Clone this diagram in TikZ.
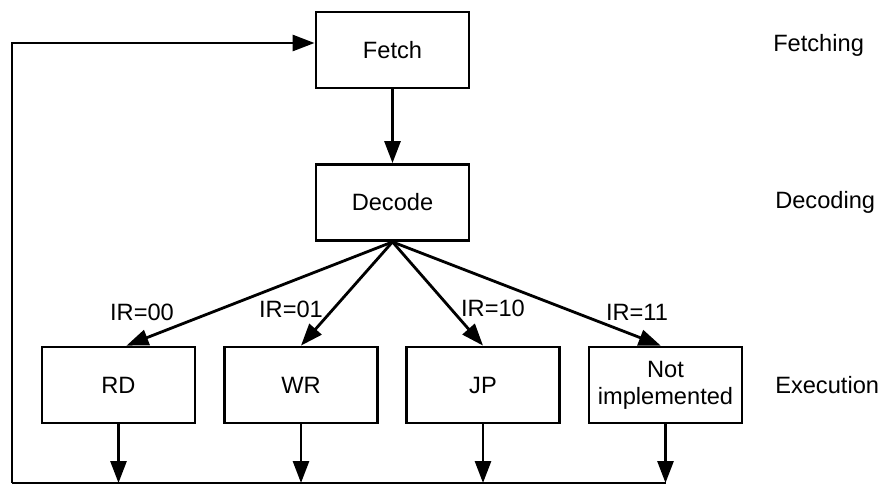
\documentclass[tikz,border=0pt]{standalone}
\usepackage{fontspec}
\setmainfont{Liberation Sans}
\usepackage{tikz}
\usetikzlibrary{arrows.meta}

\tikzset{
	stage/.style={draw, line width=2pt, minimum width=3.825cm, minimum height=1.9cm,
		inner sep=0pt, align=center, font=\fontsize{16.8}{19}\selectfont},
	phase/.style={anchor=west, inner sep=0pt, font=\fontsize{16.8}{19}\selectfont},
	cond/.style={inner sep=0pt, font=\fontsize{16.8}{19}\selectfont},
	flow/.style={line width=2pt, -{Triangle[length=0.55cm, width=0.4cm]}},
	wire/.style={line width=2pt}
}

\begin{document}
\begin{tikzpicture}[x=0.025cm, y=-0.025cm]

	\useasboundingbox (0,0) rectangle (881,483);

	% stages
	\node[stage] (Fetch) at (392.5,50) {Fetch};
	\node[stage] (Decode) at (392.5,202.5) {Decode};
	\node[stage] (RD) at (118.5,385) {RD};
	\node[stage] (WR) at (301,385) {WR};
	\node[stage] (JP) at (483,385) {JP};
	\node[stage] (NI) at (665.5,385) {Not\\implemented};

	% phase names
	\node[phase] (fetching) at (773,45) {Fetching};
	\node[phase] (decoding) at (775,202) {Decoding};
	\node[phase] (execution) at (775,385) {Execution};

	% conditions
	\node[cond] (c00) at (142,312) {IR=00};
	\node[cond] (c01) at (291,309) {IR=01};
	\node[cond] (c10) at (493,308) {IR=10};
	\node[cond] (c11) at (637,312) {IR=11};

	\draw[flow] (Fetch) -- (Decode);
	\draw[flow] (Decode.south) -- ([xshift=0.2cm]RD.north);
	\draw[flow] (Decode.south) -- (WR.north);
	\draw[flow] (Decode.south) -- (JP.north);
	\draw[flow] (Decode.south) -- ([xshift=-0.12cm]NI.north);

	% back to fetch
	\coordinate (bottom) at (12,483);
	\draw[flow] (RD.south) -- (RD.south |- bottom);
	\draw[flow] (WR.south) -- (WR.south |- bottom);
	\draw[flow] (JP.south) -- (JP.south |- bottom);
	\draw[flow] (NI.south) -- (NI.south |- bottom);
	\draw[wire] (bottom) -- (NI.south |- bottom);
	\draw[flow] (bottom) |- ([yshift=0.175cm]Fetch.west);

\end{tikzpicture}
\end{document}
